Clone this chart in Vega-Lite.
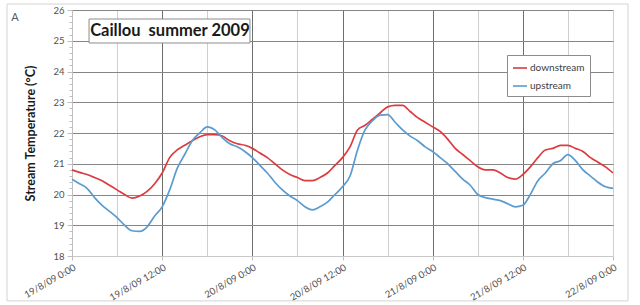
{
  "$schema": "https://vega.github.io/schema/vega-lite/v6.json",
  "width": 541,
  "height": 246,
  "autosize": {"type": "none"},
  "padding": {"left": 72, "top": 10, "right": 27, "bottom": 49},
  "background": "white",
  "config": {"view": {"stroke": null}, "font": "Lato", "axis": {"labelOverlap": false}},
  "data": {"values": [
    {"time": "2009-08-19T00:00", "downstream": 20.8, "upstream": 20.5},
    {"time": "2009-08-19T01:00", "downstream": 20.72, "upstream": 20.35},
    {"time": "2009-08-19T02:00", "downstream": 20.65, "upstream": 20.2},
    {"time": "2009-08-19T03:00", "downstream": 20.55, "upstream": 19.9},
    {"time": "2009-08-19T04:00", "downstream": 20.45, "upstream": 19.65},
    {"time": "2009-08-19T05:00", "downstream": 20.3, "upstream": 19.45},
    {"time": "2009-08-19T06:00", "downstream": 20.15, "upstream": 19.25},
    {"time": "2009-08-19T07:00", "downstream": 20.0, "upstream": 19.0},
    {"time": "2009-08-19T08:00", "downstream": 19.88, "upstream": 18.82},
    {"time": "2009-08-19T09:00", "downstream": 19.95, "upstream": 18.8},
    {"time": "2009-08-19T10:00", "downstream": 20.1, "upstream": 18.95},
    {"time": "2009-08-19T11:00", "downstream": 20.35, "upstream": 19.3},
    {"time": "2009-08-19T12:00", "downstream": 20.7, "upstream": 19.6},
    {"time": "2009-08-19T13:00", "downstream": 21.2, "upstream": 20.15},
    {"time": "2009-08-19T14:00", "downstream": 21.45, "upstream": 20.85},
    {"time": "2009-08-19T15:00", "downstream": 21.6, "upstream": 21.3},
    {"time": "2009-08-19T16:00", "downstream": 21.75, "upstream": 21.75},
    {"time": "2009-08-19T17:00", "downstream": 21.88, "upstream": 22.0},
    {"time": "2009-08-19T18:00", "downstream": 21.95, "upstream": 22.2},
    {"time": "2009-08-19T19:00", "downstream": 21.95, "upstream": 22.1},
    {"time": "2009-08-19T20:00", "downstream": 21.9, "upstream": 21.85},
    {"time": "2009-08-19T21:00", "downstream": 21.75, "upstream": 21.65},
    {"time": "2009-08-19T22:00", "downstream": 21.65, "upstream": 21.55},
    {"time": "2009-08-19T23:00", "downstream": 21.6, "upstream": 21.4},
    {"time": "2009-08-20T00:00", "downstream": 21.5, "upstream": 21.2},
    {"time": "2009-08-20T01:00", "downstream": 21.35, "upstream": 20.95},
    {"time": "2009-08-20T02:00", "downstream": 21.2, "upstream": 20.7},
    {"time": "2009-08-20T03:00", "downstream": 21.0, "upstream": 20.4},
    {"time": "2009-08-20T04:00", "downstream": 20.8, "upstream": 20.15},
    {"time": "2009-08-20T05:00", "downstream": 20.65, "upstream": 19.95},
    {"time": "2009-08-20T06:00", "downstream": 20.55, "upstream": 19.8},
    {"time": "2009-08-20T07:00", "downstream": 20.45, "upstream": 19.6},
    {"time": "2009-08-20T08:00", "downstream": 20.45, "upstream": 19.5},
    {"time": "2009-08-20T09:00", "downstream": 20.55, "upstream": 19.6},
    {"time": "2009-08-20T10:00", "downstream": 20.7, "upstream": 19.75},
    {"time": "2009-08-20T11:00", "downstream": 20.95, "upstream": 20.0},
    {"time": "2009-08-20T12:00", "downstream": 21.2, "upstream": 20.25},
    {"time": "2009-08-20T13:00", "downstream": 21.55, "upstream": 20.6},
    {"time": "2009-08-20T14:00", "downstream": 22.1, "upstream": 21.45},
    {"time": "2009-08-20T15:00", "downstream": 22.25, "upstream": 22.1},
    {"time": "2009-08-20T16:00", "downstream": 22.45, "upstream": 22.4},
    {"time": "2009-08-20T17:00", "downstream": 22.65, "upstream": 22.58},
    {"time": "2009-08-20T18:00", "downstream": 22.85, "upstream": 22.6},
    {"time": "2009-08-20T19:00", "downstream": 22.9, "upstream": 22.35},
    {"time": "2009-08-20T20:00", "downstream": 22.9, "upstream": 22.1},
    {"time": "2009-08-20T21:00", "downstream": 22.7, "upstream": 21.9},
    {"time": "2009-08-20T22:00", "downstream": 22.5, "upstream": 21.75},
    {"time": "2009-08-20T23:00", "downstream": 22.35, "upstream": 21.55},
    {"time": "2009-08-21T00:00", "downstream": 22.2, "upstream": 21.4},
    {"time": "2009-08-21T01:00", "downstream": 22.05, "upstream": 21.2},
    {"time": "2009-08-21T02:00", "downstream": 21.8, "upstream": 21.0},
    {"time": "2009-08-21T03:00", "downstream": 21.5, "upstream": 20.75},
    {"time": "2009-08-21T04:00", "downstream": 21.3, "upstream": 20.5},
    {"time": "2009-08-21T05:00", "downstream": 21.1, "upstream": 20.3},
    {"time": "2009-08-21T06:00", "downstream": 20.9, "upstream": 20.0},
    {"time": "2009-08-21T07:00", "downstream": 20.8, "upstream": 19.9},
    {"time": "2009-08-21T08:00", "downstream": 20.8, "upstream": 19.85},
    {"time": "2009-08-21T09:00", "downstream": 20.7, "upstream": 19.8},
    {"time": "2009-08-21T10:00", "downstream": 20.55, "upstream": 19.7},
    {"time": "2009-08-21T11:00", "downstream": 20.5, "upstream": 19.6},
    {"time": "2009-08-21T12:00", "downstream": 20.65, "upstream": 19.65},
    {"time": "2009-08-21T13:00", "downstream": 20.9, "upstream": 20.0},
    {"time": "2009-08-21T14:00", "downstream": 21.2, "upstream": 20.45},
    {"time": "2009-08-21T15:00", "downstream": 21.45, "upstream": 20.7},
    {"time": "2009-08-21T16:00", "downstream": 21.5, "upstream": 21.0},
    {"time": "2009-08-21T17:00", "downstream": 21.6, "upstream": 21.1},
    {"time": "2009-08-21T18:00", "downstream": 21.6, "upstream": 21.3},
    {"time": "2009-08-21T19:00", "downstream": 21.5, "upstream": 21.1},
    {"time": "2009-08-21T20:00", "downstream": 21.4, "upstream": 20.8},
    {"time": "2009-08-21T21:00", "downstream": 21.2, "upstream": 20.6},
    {"time": "2009-08-21T22:00", "downstream": 21.05, "upstream": 20.4},
    {"time": "2009-08-21T23:00", "downstream": 20.9, "upstream": 20.25},
    {"time": "2009-08-22T00:00", "downstream": 20.7, "upstream": 20.2}
  ]},
  "layer": [
    {
      "transform": [{"fold": ["downstream", "upstream"], "as": ["series", "temp"]}],
      "mark": {"type": "line", "strokeWidth": 1.7, "interpolate": "monotone"},
      "encoding": {
        "x": {
          "field": "time", "type": "temporal",
          "scale": {"domain": [{"year": 2009, "month": 8, "date": 19, "hours": 0}, {"year": 2009, "month": 8, "date": 22, "hours": 0}]},
          "axis": {
            "values": [
              {"year": 2009, "month": 8, "date": 19, "hours": 0},
              {"year": 2009, "month": 8, "date": 19, "hours": 6},
              {"year": 2009, "month": 8, "date": 19, "hours": 12},
              {"year": 2009, "month": 8, "date": 19, "hours": 18},
              {"year": 2009, "month": 8, "date": 20, "hours": 0},
              {"year": 2009, "month": 8, "date": 20, "hours": 6},
              {"year": 2009, "month": 8, "date": 20, "hours": 12},
              {"year": 2009, "month": 8, "date": 20, "hours": 18},
              {"year": 2009, "month": 8, "date": 21, "hours": 0},
              {"year": 2009, "month": 8, "date": 21, "hours": 6},
              {"year": 2009, "month": 8, "date": 21, "hours": 12},
              {"year": 2009, "month": 8, "date": 21, "hours": 18},
              {"year": 2009, "month": 8, "date": 22, "hours": 0}
            ],
            "tickCount": 100,
            "format": "%-d/%-m/%y %-H:%M",
            "labelExpr": "hours(datum.value) % 12 == 0 ? datum.label : ''",
            "labelAngle": -30, "labelAlign": "right", "labelBaseline": "top",
            "labelPadding": 2, "labelFontSize": 9.5, "labelColor": "#505050",
            "labelOverlap": false, "labelBound": false, "labelFlush": false,
            "title": null,
            "grid": true,
            "gridColor": {"condition": {"test": "hours(datum.value) % 12 == 0 && date(datum.value) < 22", "value": "#6e6e6e"}, "value": "#cfcfcf"},
            "domainColor": "#c8c8c8",
            "tickColor": "#bfbfbf",
            "tickSize": {"condition": {"test": "hours(datum.value) % 12 == 0", "value": 4}, "value": 0}
          }
        },
        "y": {
          "field": "temp", "type": "quantitative",
          "scale": {"domain": [18, 26], "nice": false, "zero": false},
          "axis": {
            "values": [18, 18.2, 18.4, 18.6, 18.8, 19, 19.2, 19.4, 19.6, 19.8, 20, 20.2, 20.4, 20.6, 20.8, 21, 21.2, 21.4, 21.6, 21.8, 22, 22.2, 22.4, 22.6, 22.8, 23, 23.2, 23.4, 23.6, 23.8, 24, 24.2, 24.4, 24.6, 24.8, 25, 25.2, 25.4, 25.6, 25.8, 26],
            "tickCount": 100,
            "labelExpr": "abs(datum.value - round(datum.value)) < 0.01 ? format(datum.value, 'd') : ''",
            "labelOverlap": false,
            "labelFontSize": 9.5, "labelColor": "#505050", "labelPadding": 3,
            "grid": true,
            "gridColor": {"condition": {"test": "abs(datum.value - round(datum.value)) < 0.01 && datum.value > 18.5", "value": "#858585"}, "value": "rgba(255,255,255,0)"},
            "tickSize": {"condition": {"test": "abs(datum.value - round(datum.value)) < 0.01", "value": 5}, "value": 3},
            "tickColor": "#bfbfbf",
            "domainColor": "#bfbfbf",
            "title": "Stream Temperature (°C)",
            "titleFontSize": 12.5, "titleFontWeight": "bold", "titleColor": "#1a1a1a", "titlePadding": 15
          }
        },
        "color": {
          "field": "series", "type": "nominal",
          "scale": {"domain": ["downstream", "upstream"], "range": ["#dc3b3f", "#5b9bcf"]},
          "legend": {
            "orient": "none", "legendX": 435, "legendY": 45, "title": null,
            "symbolType": "stroke", "symbolSize": 196, "symbolStrokeWidth": 1.6,
            "labelFontSize": 10, "labelColor": "#404040", "labelOffset": 2,
            "padding": 5, "rowPadding": 5,
            "strokeColor": "#8c8c8c", "fillColor": "white"
          }
        }
      }
    },
    {
      "data": {"values": [{}]},
      "mark": {"type": "rect", "fill": "white", "stroke": "#8c8c8c", "strokeWidth": 1},
      "encoding": {
        "x": {"datum": {"year": 2009, "month": 8, "date": 19, "hours": 2, "minutes": 16}, "type": "temporal"},
        "x2": {"datum": {"year": 2009, "month": 8, "date": 19, "hours": 23, "minutes": 41}},
        "y": {"datum": 25.707, "type": "quantitative"},
        "y2": {"datum": 24.927}
      }
    },
    {
      "data": {"values": [{}]},
      "mark": {"type": "text", "text": "Caillou\u00a0 summer 2009", "fontSize": 16.5, "fontWeight": "bold", "color": "#1a1a1a", "align": "center", "baseline": "middle"},
      "encoding": {
        "x": {"datum": {"year": 2009, "month": 8, "date": 19, "hours": 13, "minutes": 2}, "type": "temporal"},
        "y": {"datum": 25.32, "type": "quantitative"}
      }
    },
    {
      "data": {"values": [{}]},
      "mark": {"type": "text", "text": "A", "fontSize": 11, "color": "#595959", "align": "center", "baseline": "middle"},
      "encoding": {
        "x": {"datum": {"year": 2009, "month": 8, "date": 18, "hours": 16, "minutes": 25}, "type": "temporal"},
        "y": {"datum": 25.74, "type": "quantitative"}
      }
    },
    {
      "data": {"values": [{}]},
      "mark": {"type": "rect", "fill": null, "fillOpacity": 0, "stroke": "#d4d4d4", "strokeWidth": 1},
      "encoding": {
        "x": {"datum": {"year": 2009, "month": 8, "date": 18, "hours": 15, "minutes": 21}, "type": "temporal"},
        "x2": {"datum": {"year": 2009, "month": 8, "date": 22, "hours": 2, "minutes": 0}},
        "y": {"datum": 26.195, "type": "quantitative"},
        "y2": {"datum": 16.54}
      }
    }
  ]
}
